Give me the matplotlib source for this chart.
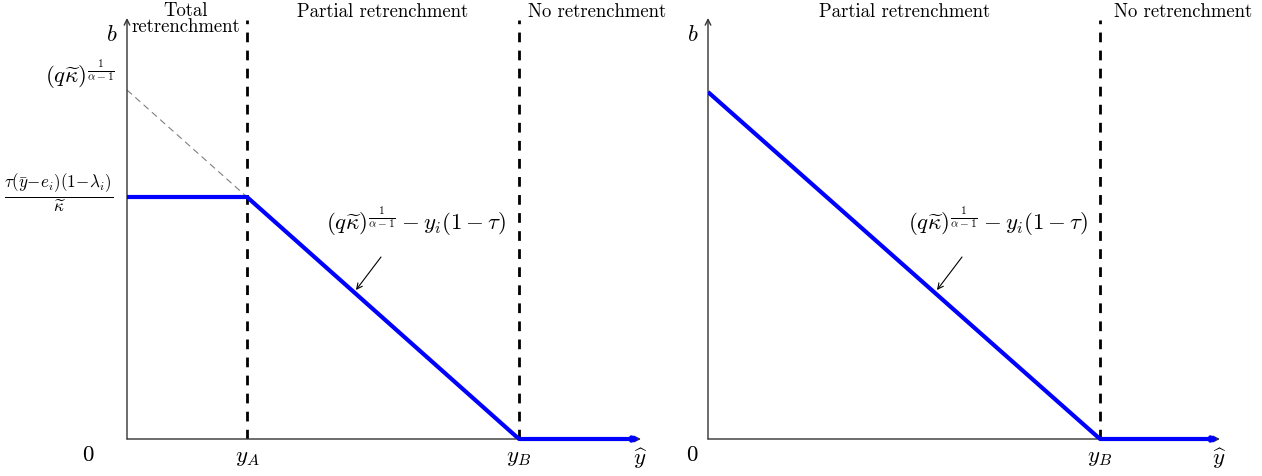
import matplotlib.pyplot as plt
import numpy as np

plt.rcParams['font.family'] = ['cmr10', 'DejaVu Serif']
plt.rcParams['mathtext.fontset'] = 'cm'
plt.rcParams['axes.formatter.use_mathtext'] = True

# left panel (abstract units)
yA = 1.20
yB = 3.92
x_end = 5.14
b_flat = 2.42
b_top = 3.49           # (q kappa)^(1/(alpha-1)), intercept of dashed extension
left_x = [0, yA, yB, x_end]
left_b = [b_flat, b_flat, 0, 0]
dash_x = [0, yA]
dash_b = [b_top, b_flat]

# right panel
yB_r = 3.92
x_end_r = 5.12
b_top_r = 3.47
right_x = [0, yB_r, x_end_r]
right_b = [b_top_r, 0, 0]

y_top = 4.21
W, H = 1262, 476
fig = plt.figure(figsize=(W/100, H/100), dpi=100)

def make_ax(x0px):
    ax = fig.add_axes([x0px/W, (H-439)/H, 520/W, 430/H])
    ax.set_xlim(0, 5.2)
    ax.set_ylim(0, 4.3)
    ax.axis('off')
    return ax

ax1 = make_ax(127)
ax2 = make_ax(708)

blue = '#0000ff'
fs = 13.5   # plain text
fm = 16.5   # math text
curve_lbl = r'$(q\widetilde{\kappa})^{\frac{1}{\alpha-1}} - y_i(1-\tau)$'

for ax, xend, zx in [(ax1, x_end, -0.39), (ax2, x_end_r, -0.16)]:
    # axes with arrows
    ax.annotate('', xy=(xend, 0), xytext=(0, 0),
                arrowprops=dict(arrowstyle='->', color='#333333', lw=1.0, shrinkA=0, shrinkB=0))
    ax.annotate('', xy=(0, y_top), xytext=(0, 0),
                arrowprops=dict(arrowstyle='->', color='#333333', lw=1.0, shrinkA=0, shrinkB=0))
    ax.text(zx, -0.16, '$0$', fontsize=fm, ha='center', va='center')
    ax.text(xend, -0.2, r'$\widehat{y}$', fontsize=fm, ha='center', va='center')
    ax.text(-0.15, 4.04, '$b$', fontsize=fm, ha='center', va='center')

# left panel
ax1.plot(dash_x, dash_b, '--', color='gray', lw=0.8, dashes=(6, 4))
ax1.plot(left_x[:3], left_b[:3], color=blue, lw=3, solid_capstyle='butt', zorder=3)
ax1.annotate('', xy=(x_end, 0), xytext=(yB, 0),
             arrowprops=dict(arrowstyle='-|>,head_length=0.3,head_width=0.12', color=blue, lw=3,
                             shrinkA=0, shrinkB=0), zorder=3)
for xv in [yA, yB]:
    ax1.plot([xv, xv], [0, 4.19], '--', color='black', lw=2, dashes=(3.5, 3))
ax1.text(yA, -0.19, '$y_A$', fontsize=fm, ha='center', va='center')
ax1.text(yB, -0.19, '$y_B$', fontsize=fm, ha='center', va='center')
ax1.text(-0.12, 3.64, r'$(q\widetilde{\kappa})^{\frac{1}{\alpha-1}}$', fontsize=fm, ha='right', va='center')
ax1.text(-0.14, 2.45, r'$\frac{\tau(\bar{y}\!-\!e_i)(1\!-\!\lambda_i)}{\widetilde{\kappa}}$', fontsize=fm + 1,
         ha='right', va='center')
ax1.text(0.59, 4.28, 'Total', fontsize=fs, ha='center', va='center')
ax1.text(0.59, 4.12, 'retrenchment', fontsize=fs, ha='center', va='center')
ax1.text(2.56, 4.27, 'Partial retrenchment', fontsize=fs, ha='center', va='center')
ax1.text(4.70, 4.27, 'No retrenchment', fontsize=fs, ha='center', va='center')
ax1.text(2.89, 2.17, curve_lbl, fontsize=fm, ha='center', va='center')
ax1.annotate('', xy=(2.29, 1.49), xytext=(2.54, 1.82),
             arrowprops=dict(arrowstyle='->', color='black', lw=0.8, shrinkA=0, shrinkB=0))

# right panel
ax2.plot(right_x[:2], right_b[:2], color=blue, lw=3, solid_capstyle='butt', zorder=3)
ax2.annotate('', xy=(x_end_r, 0), xytext=(yB_r, 0),
             arrowprops=dict(arrowstyle='-|>,head_length=0.3,head_width=0.12', color=blue, lw=3,
                             shrinkA=0, shrinkB=0), zorder=3)
ax2.plot([yB_r, yB_r], [0, 4.19], '--', color='black', lw=2, dashes=(3.5, 3))
ax2.text(yB_r, -0.19, '$y_B$', fontsize=fm, ha='center', va='center')
ax2.text(1.97, 4.27, 'Partial retrenchment', fontsize=fs, ha='center', va='center')
ax2.text(4.75, 4.27, 'No retrenchment', fontsize=fs, ha='center', va='center')
ax2.text(2.90, 2.17, curve_lbl, fontsize=fm, ha='center', va='center')
ax2.annotate('', xy=(2.29, 1.49), xytext=(2.54, 1.82),
             arrowprops=dict(arrowstyle='->', color='black', lw=0.8, shrinkA=0, shrinkB=0))

fig.savefig('out.png', dpi=100)
